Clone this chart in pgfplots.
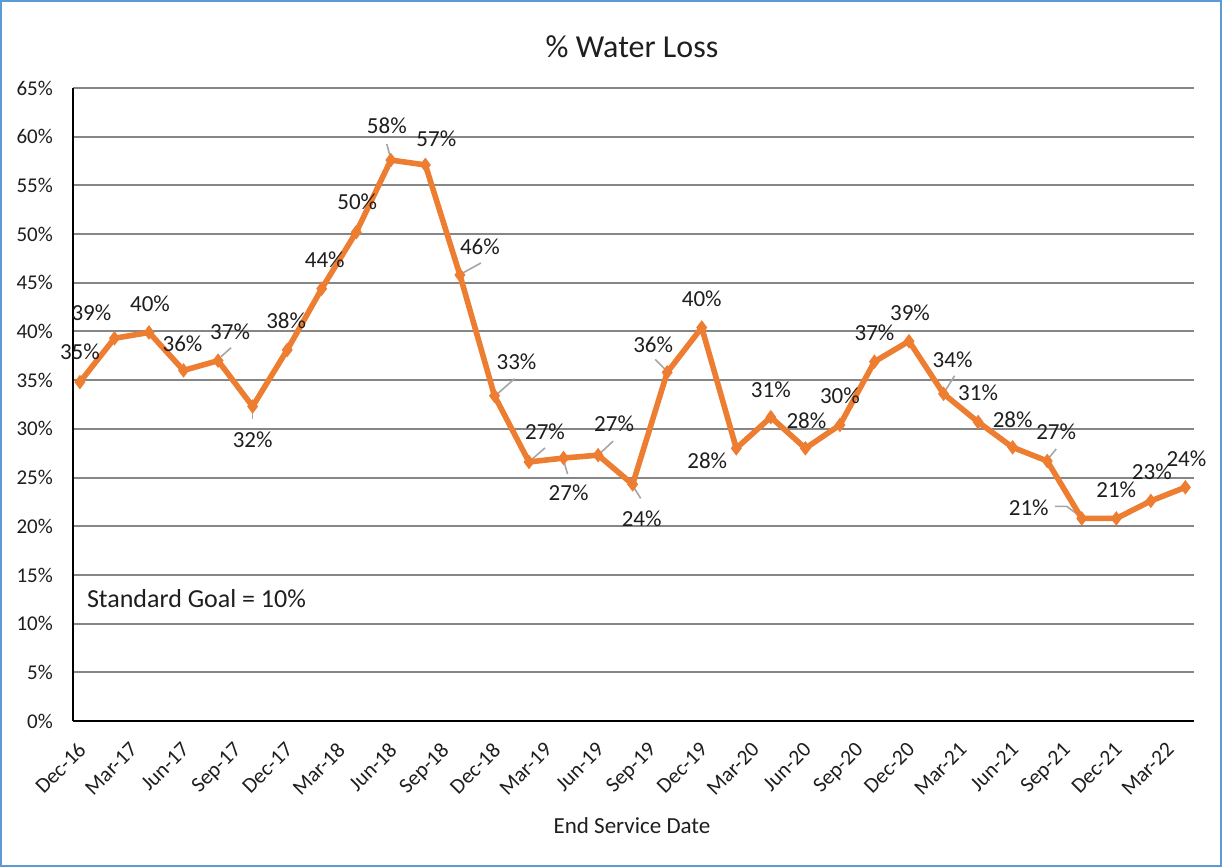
\documentclass[border=0pt]{standalone}
\usepackage{pgfplots}
\pgfplotsset{compat=1.18}
\usepackage{pgfplotstable}
\usepackage{fontspec}
\setmainfont{Carlito}
\definecolor{xlorange}{RGB}{237,125,49}
\definecolor{gridgray}{RGB}{134,134,134}
\definecolor{leadgray}{RGB}{166,166,166}
\definecolor{borderblue}{RGB}{91,155,213}
\definecolor{txt}{RGB}{30,30,30}

% month index (0 = Dec-16), value in %, label offset dx, dy (pt)
\pgfplotstableread{
x y dx dy
0 34.8 0 30
2 39.3 -23 26
4 39.9 1 29
6 36.0 -1 27
8 37.0 12 29
10 32.3 0 -33
12 38.1 -1 29
14 44.4 3 29
16 50.2 1 30
18 57.6 -4 34
20 57.1 11 26
22 45.8 20 28
24 33.4 22 34
26 26.6 16 30
28 27.0 5 -35
30 27.3 16 31
32 24.3 9 -34
34 35.8 -14 28
36 40.4 0 29
38 28.0 -29 -12
40 31.2 0 27
42 28.0 1 28
44 30.4 0 29
46 36.9 0 29
48 39.0 1 28
50 33.6 9 34
52 30.7 0 29
54 28.1 0 28
56 26.7 9 29
58 20.8 -53 11
60 20.8 0 29
62 22.6 1 29
64 24.0 1 29
}\waterloss

\begin{document}
\begin{tikzpicture}
\useasboundingbox (-73pt,-146pt) rectangle (1149pt,721pt);
\draw[borderblue, line width=2.2pt] (-72pt,-145pt) rectangle (1148pt,720pt);
\begin{axis}[
  at={(0pt,0pt)}, anchor=south west,
  scale only axis, width=1121pt, height=633pt,
  xmin=-0.4, xmax=64.5, ymin=0, ymax=65,
  axis x line*=bottom, axis y line*=left,
  axis line style={black, line width=2.5pt},
  major tick length=0pt,
  ytick={0,5,...,65},
  yticklabel={\pgfmathprintnumber{\tick}\%},
  xtick={0,3,...,63},
  xticklabels={Dec-16,Mar-17,Jun-17,Sep-17,Dec-17,Mar-18,Jun-18,Sep-18,Dec-18,Mar-19,Jun-19,Sep-19,Dec-19,Mar-20,Jun-20,Sep-20,Dec-20,Mar-21,Jun-21,Sep-21,Dec-21,Mar-22},
  /pgf/number format/assume math mode=true,
  ymajorgrids,
  grid style={gridgray, line width=2pt},
  yticklabel style={font=\fontsize{21}{25}\selectfont, text=txt, anchor=east, inner sep=0pt, xshift=-20pt},
  xticklabel style={font=\fontsize{21.5}{25}\selectfont, text=txt, inner sep=0pt, xshift=-3pt, yshift=-20pt, rotate=45, anchor=north east},
  clip=false,
]
% leader lines
\draw[leadgray, line width=1.6pt] (axis cs:8,37.0) ++(3pt,4pt) -- ++(10pt,9pt);
\draw[leadgray, line width=1.6pt] (axis cs:10,32.3) ++(0pt,-4pt) -- ++(0pt,-9pt);
\draw[leadgray, line width=1.6pt] (axis cs:18,57.6) ++(0pt,1pt) -- ++(-4pt,15pt);
\draw[leadgray, line width=1.6pt] (axis cs:22,45.8) ++(1pt,1pt) -- ++(20pt,11pt);
\draw[leadgray, line width=1.6pt] (axis cs:24,33.4) ++(2pt,1pt) -- ++(18pt,16pt);
\draw[leadgray, line width=1.6pt] (axis cs:26,26.6) ++(1pt,1pt) -- ++(15pt,13pt);
\draw[leadgray, line width=1.6pt] (axis cs:28,27.0) ++(0pt,-2pt) -- ++(4pt,-14pt);
\draw[leadgray, line width=1.6pt] (axis cs:30,27.3) -- ++(15pt,14pt);
\draw[leadgray, line width=1.6pt] (axis cs:32,24.3) ++(0pt,-1pt) -- ++(8pt,-13pt);
\draw[leadgray, line width=1.6pt] (axis cs:34,35.8) ++(0pt,1pt) -- ++(-12pt,12pt);
\draw[leadgray, line width=1.6pt] (axis cs:50,33.6) ++(1pt,2pt) -- ++(10pt,16pt);
\draw[leadgray, line width=1.6pt] (axis cs:56,26.7) ++(0pt,1pt) -- ++(9pt,11pt);
\draw[leadgray, line width=1.6pt] (axis cs:58,20.8) ++(0pt,1pt) -- ++(-15pt,11pt) -- ++(-12pt,0pt);

\addplot[
  xlorange, line width=5.6pt,
  mark=diamond*, mark size=6.5pt,
  mark options={solid, fill=xlorange, draw=xlorange, line width=1pt},
  point meta=y,
  visualization depends on={\thisrow{dx}\as\labeldx},
  visualization depends on={\thisrow{dy}\as\labeldy},
  nodes near coords={\pgfmathprintnumber[fixed,precision=0]{\pgfplotspointmeta}\%},
  every node near coord/.append style={font=\fontsize{23}{27}\selectfont, text=txt, anchor=center, inner sep=0pt, xshift=\labeldx pt, yshift=\labeldy pt},
] table[x=x, y=y] {\waterloss};
\end{axis}
\node[font=\fontsize{32}{38}\selectfont, text=txt] at (559pt,674pt) {\% Water Loss};
\node[font=\fontsize{23}{27}\selectfont, text=txt] at (559pt,-105pt) {End Service Date};
\node[font=\fontsize{26}{31}\selectfont, text=txt] at (123.5pt,122pt) {Standard Goal = 10\%};
\end{tikzpicture}
\end{document}
